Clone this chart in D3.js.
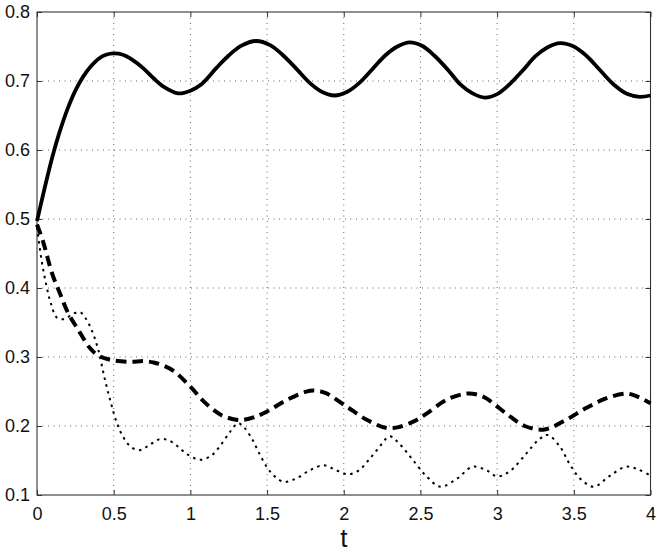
<!DOCTYPE html>
<html>
<head>
<meta charset="utf-8">
<script src="https://cdn.jsdelivr.net/npm/d3@7"></script>
<style>
html,body{margin:0;padding:0;background:#fff;}
svg{display:block;}
</style>
</head>
<body>
<svg id="chart" width="661" height="552"></svg>
<script>
// ---- data ----
const xTicks = [0, 0.5, 1, 1.5, 2, 2.5, 3, 3.5, 4];
const yTicks = [0.1, 0.2, 0.3, 0.4, 0.5, 0.6, 0.7, 0.8];
const xLabel = "t";

const solidT = [0,0.05,0.1,0.15,0.2,0.25,0.3,0.35,0.4,0.45,0.5,0.56,0.62,0.69,0.76,0.83,0.92,1.0,1.07,1.17,1.25,1.33,1.43,1.52,1.6,1.69,1.78,1.86,1.94,2.02,2.1,2.19,2.27,2.35,2.43,2.51,2.59,2.68,2.76,2.84,2.92,3.0,3.08,3.17,3.25,3.33,3.41,3.5,3.58,3.67,3.76,3.85,3.93,4.0];
const solidV = [0.497,0.545,0.59,0.628,0.66,0.686,0.706,0.721,0.732,0.738,0.740,0.738,0.731,0.719,0.704,0.691,0.682,0.686,0.695,0.719,0.737,0.751,0.758,0.752,0.738,0.718,0.697,0.684,0.679,0.684,0.697,0.718,0.737,0.750,0.756,0.751,0.737,0.716,0.695,0.682,0.676,0.681,0.695,0.716,0.736,0.749,0.755,0.750,0.737,0.716,0.695,0.681,0.677,0.679];

const dashT = [0,0.04,0.1,0.15,0.2,0.27,0.345,0.4,0.476,0.6,0.7,0.76,0.82,0.89,1.0,1.09,1.2,1.3,1.35,1.42,1.5,1.63,1.78,1.85,1.89,2.02,2.15,2.28,2.35,2.45,2.54,2.67,2.8,2.88,2.93,3.06,3.18,3.31,3.45,3.58,3.71,3.84,3.9,4.0];
const dashV = [0.492,0.467,0.42,0.392,0.365,0.339,0.313,0.302,0.296,0.293,0.294,0.292,0.288,0.280,0.257,0.235,0.216,0.209,0.209,0.213,0.221,0.238,0.251,0.250,0.247,0.228,0.209,0.197,0.198,0.206,0.218,0.238,0.247,0.245,0.240,0.218,0.200,0.195,0.209,0.226,0.240,0.247,0.244,0.233];

const dotT = [0,0.03,0.06,0.09,0.13,0.18,0.23,0.28,0.32,0.36,0.4,0.44,0.48,0.52,0.56,0.61,0.67,0.73,0.8,0.86,0.92,0.98,1.06,1.13,1.19,1.26,1.31,1.35,1.4,1.45,1.5,1.55,1.61,1.69,1.78,1.87,1.95,2.03,2.1,2.16,2.22,2.3,2.36,2.45,2.54,2.63,2.74,2.84,2.93,3.0,3.08,3.19,3.27,3.33,3.41,3.47,3.54,3.63,3.73,3.84,3.92,4.0];
const dotV = [0.488,0.44,0.405,0.378,0.357,0.355,0.362,0.365,0.355,0.337,0.31,0.27,0.235,0.205,0.185,0.170,0.165,0.172,0.181,0.179,0.170,0.159,0.151,0.156,0.170,0.192,0.204,0.198,0.182,0.160,0.140,0.127,0.119,0.124,0.136,0.143,0.136,0.130,0.136,0.150,0.166,0.185,0.175,0.151,0.127,0.112,0.124,0.141,0.136,0.127,0.134,0.160,0.180,0.187,0.170,0.146,0.124,0.112,0.127,0.141,0.137,0.128];

// ---- layout ----
const svg = d3.select("#chart");
const L = 37, R = 650.5, T = 12, B = 495;
const x = d3.scaleLinear().domain([0, 4]).range([L, R]);
const y = d3.scaleLinear().domain([0.1, 0.8]).range([B, T]);
const font = "'Liberation Sans', Arial, Helvetica, sans-serif";

// grid
const g = svg.append("g");
g.selectAll("line.gx").data(xTicks.slice(1, -1)).enter().append("line")
  .attr("x1", d => x(d)).attr("x2", d => x(d)).attr("y1", T).attr("y2", B)
  .attr("stroke", "#555").attr("stroke-width", 0.9).attr("stroke-dasharray", "1,4.5");
g.selectAll("line.gy").data(yTicks.slice(1, -1)).enter().append("line")
  .attr("y1", d => y(d)).attr("y2", d => y(d)).attr("x1", L).attr("x2", R)
  .attr("stroke", "#555").attr("stroke-width", 0.9).attr("stroke-dasharray", "1,4.5");

// axes (inward ticks, mirrored)
const tl = 5;
const axB = d3.axisBottom(x).tickValues(xTicks).tickSize(-tl).tickFormat(d3.format("~g")).tickPadding(12);
const axT = d3.axisTop(x).tickValues(xTicks).tickSize(-tl).tickFormat("");
const axL = d3.axisLeft(y).tickValues(yTicks).tickSize(-tl).tickFormat(d3.format(".1f")).tickPadding(7);
const axR = d3.axisRight(y).tickValues(yTicks).tickSize(-tl).tickFormat("");

function styleAxis(sel) {
  sel.select(".domain").remove();
  sel.selectAll(".tick line").attr("stroke", "#333").attr("stroke-width", 1);
  sel.selectAll(".tick text").attr("fill", "#111").style("font-family", font).style("font-size", "18px");
}
svg.append("g").attr("transform", `translate(0,${B})`).call(axB).call(styleAxis)
  .selectAll(".tick text").attr("y", 0).attr("dy", "24.5px");
svg.append("g").attr("transform", `translate(0,${T})`).call(axT).call(styleAxis);
svg.append("g").attr("transform", `translate(${L},0)`).call(axL).call(styleAxis);
svg.append("g").attr("transform", `translate(${R},0)`).call(axR).call(styleAxis);

// box
svg.append("rect").attr("x", L).attr("y", T).attr("width", R - L).attr("height", B - T)
  .attr("fill", "none").attr("stroke", "#333").attr("stroke-width", 1.1);

// lines
const line = d3.line().x(d => x(d[0])).y(d => y(d[1])).curve(d3.curveCatmullRom.alpha(0.5));
const zipd = (a, b) => a.map((t, i) => [t, b[i]]);

svg.append("path").datum(zipd(dotT, dotV)).attr("d", line)
  .attr("fill", "none").attr("stroke", "#000").attr("stroke-width", 2).attr("stroke-dasharray", "2.5,4.5");
svg.append("path").datum(zipd(dashT, dashV)).attr("d", line)
  .attr("fill", "none").attr("stroke", "#000").attr("stroke-width", 4).attr("stroke-dasharray", "10.5,6");
svg.append("path").datum(zipd(solidT, solidV)).attr("d", line)
  .attr("fill", "none").attr("stroke", "#000").attr("stroke-width", 3.8);

// x label
svg.append("text").attr("x", (L + R) / 2).attr("y", 546.5).attr("text-anchor", "middle")
  .style("font-family", font).style("font-size", "26px").attr("fill", "#111").text(xLabel);
</script>
</body>
</html>
